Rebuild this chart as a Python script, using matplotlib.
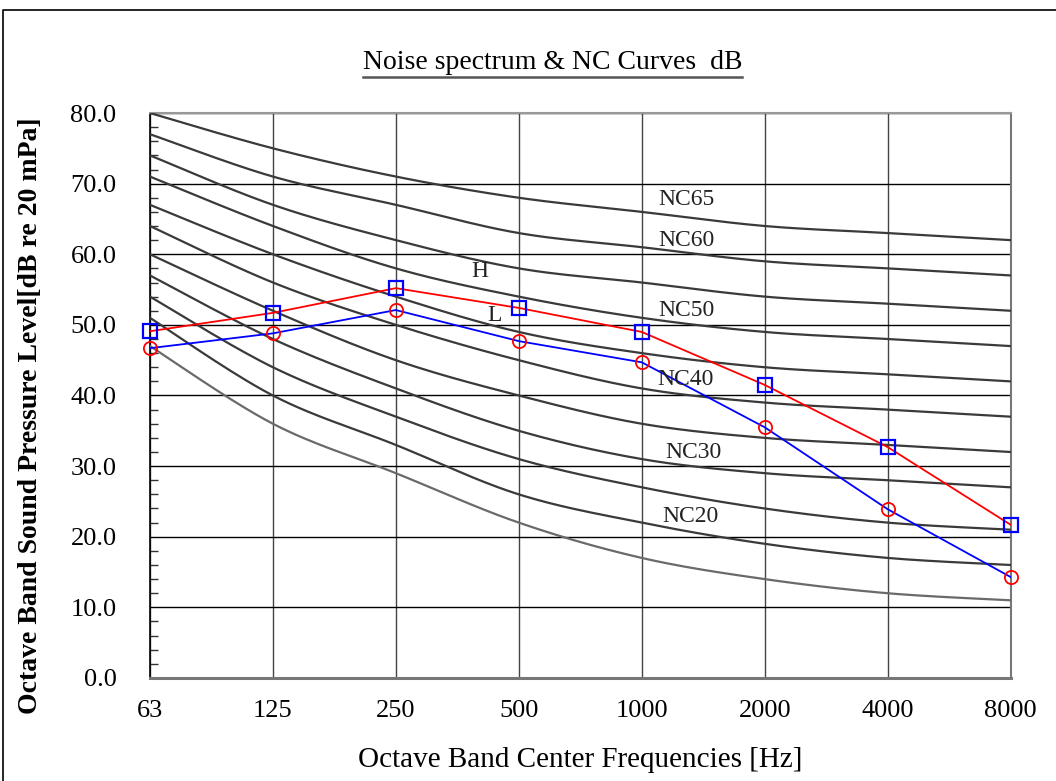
import numpy as np
import matplotlib
matplotlib.use("Agg")
import matplotlib.pyplot as plt
from matplotlib.lines import Line2D

# octave bands
freqs = ["63", "125", "250", "500", "1000", "2000", "4000", "8000"]

# NC curves (dB)
nc15 = [47, 36, 29, 22, 17, 14, 12, 11]
nc20 = [51, 40, 33, 26, 22, 19, 17, 16]
nc25 = [54, 44, 37, 31, 27, 24, 22, 21]
nc30 = [57, 48, 41, 35, 31, 29, 28, 27]
nc35 = [60, 52, 45, 40, 36, 34, 33, 32]
nc40 = [64, 56, 50, 45, 41, 39, 38, 37]
nc45 = [67, 60, 54, 49, 46, 44, 43, 42]
nc50 = [71, 64, 58, 54, 51, 49, 48, 47]
nc55 = [74, 67, 62, 58, 56, 54, 53, 52]
nc60 = [77, 71, 67, 63, 61, 59, 58, 57]
nc65 = [80, 75, 71, 68, 66, 64, 63, 62]
nc_curves = [nc15, nc20, nc25, nc30, nc35, nc40, nc45, nc50, nc55, nc60, nc65]

# measured noise spectra
spec_H = [49.1, 51.7, 55.2, 52.4, 49.0, 41.5, 32.7, 21.7]
spec_L = [46.7, 48.8, 52.1, 47.7, 44.7, 35.5, 23.9, 14.3]

# curve labels: (text, x in band index, y in dB)
nc_labels = [("NC65", 4.36, 67.8), ("NC60", 4.36, 62.0), ("NC50", 4.36, 52.1),
             ("NC40", 4.36, 42.3), ("NC30", 4.42, 31.9), ("NC20", 4.40, 22.9)]


def smooth(y, n=30):
    # excel-like smoothed line (uniform catmull-rom through the points)
    y = np.asarray(y, float)
    x = np.arange(len(y), dtype=float)
    P = np.column_stack([x, y])
    P = np.vstack([P[0], P, P[-1]])
    out = []
    t = np.linspace(0, 1, n)[:, None]
    for i in range(1, len(P) - 2):
        p0, p1, p2, p3 = P[i - 1], P[i], P[i + 1], P[i + 2]
        c1 = p1 + (p2 - p0) / 6.0
        c2 = p2 - (p3 - p1) / 6.0
        seg = ((1 - t) ** 3) * p1 + 3 * ((1 - t) ** 2) * t * c1 + 3 * (1 - t) * t ** 2 * c2 + t ** 3 * p2
        out.append(seg if i == 1 else seg[1:])
    out = np.vstack(out)
    return out[:, 0], out[:, 1]


serif = "Liberation Serif"
fig = plt.figure(figsize=(10.56, 7.81), dpi=100)
ax = fig.add_axes([0.142, 0.1319, 0.815, 0.7234])

xs = np.arange(len(freqs))
for i, c in enumerate(nc_curves):
    sx, sy = smooth(c)
    col = "#6a6a6a" if i == 0 else "#3a3a3a"
    ax.plot(sx, sy, color=col, lw=1.6, zorder=3)

ax.plot(xs, spec_H, color="#ff0000", lw=1.3, zorder=4)
ax.plot(xs, spec_L, color="#0000ff", lw=1.3, zorder=4)
ax.plot(xs, spec_H, ls="none", marker="s", ms=10.5, mfc="none", mec="#0000ff", mew=1.6,
        zorder=5, clip_on=False)
ax.plot(xs, spec_L, ls="none", marker="o", ms=9.5, mfc="none", mec="#ff0000", mew=1.3,
        zorder=5, clip_on=False)

for txt, lx, ly in nc_labels:
    ax.text(lx, ly, txt, fontsize=17, family=serif, color="#222222", ha="center", va="center", zorder=6)
ax.text(2.68, 57.6, "H", fontsize=17, family=serif, color="#222222", ha="center", va="center")
ax.text(2.80, 51.3, "L", fontsize=17, family=serif, color="#222222", ha="center", va="center")

ax.set_xlim(0, 7)
ax.set_ylim(0, 80)
ax.set_xticks(xs)
ax.set_xticklabels(freqs)
ax.set_yticks(np.arange(0, 81, 10))
ax.set_yticklabels(["%.1f" % v for v in np.arange(0, 81, 10)])
ax.set_yticks(np.arange(0, 81, 2), minor=True)
ax.tick_params(axis="y", which="major", length=0, pad=24, labelsize=19)
ax.tick_params(axis="y", which="minor", direction="in", length=6, width=1, color="#333333")
ax.tick_params(axis="x", which="major", length=0, pad=16, labelsize=19)
for lab in ax.get_xticklabels() + ax.get_yticklabels():
    lab.set_family(serif)

ax.grid(True, axis="y", color="black", lw=1.0, zorder=1)
ax.grid(True, axis="x", color="#444444", lw=1.0, zorder=1)
ax.set_axisbelow(True)
ax.spines["left"].set_color("black")
ax.spines["left"].set_linewidth(1.2)
ax.spines["bottom"].set_color("#777777")
ax.spines["bottom"].set_linewidth(2.2)
ax.spines["top"].set_color("#999999")
ax.spines["top"].set_linewidth(1.5)
ax.spines["right"].set_color("#777777")
ax.spines["right"].set_linewidth(1.5)

ax.set_xlabel("Octave Band Center Frequencies [Hz]", fontsize=21, family=serif, labelpad=18)
ax.set_ylabel("Octave Band Sound Pressure Level[dB re 20 mPa]", fontsize=20, family=serif,
              fontweight="bold", va="center")
ax.yaxis.set_label_coords(-0.139, 0.464)

title = fig.text(0.523, 0.92, "Noise spectrum & NC Curves  dB", fontsize=20, family=serif,
                 ha="center", va="center")
fig.canvas.draw()
bb = title.get_window_extent().transformed(fig.transFigure.inverted())
fig.add_artist(Line2D([bb.x0, bb.x1], [bb.y0 - 0.002, bb.y0 - 0.002], color="#555555", lw=1.8,
                      transform=fig.transFigure))

# chart area border (left and top edges visible)
fig.add_artist(Line2D([0.003, 0.003, 1.0], [0.0, 0.987, 0.987], color="black", lw=1.2,
                      transform=fig.transFigure))

fig.savefig("out.png", dpi=100)
